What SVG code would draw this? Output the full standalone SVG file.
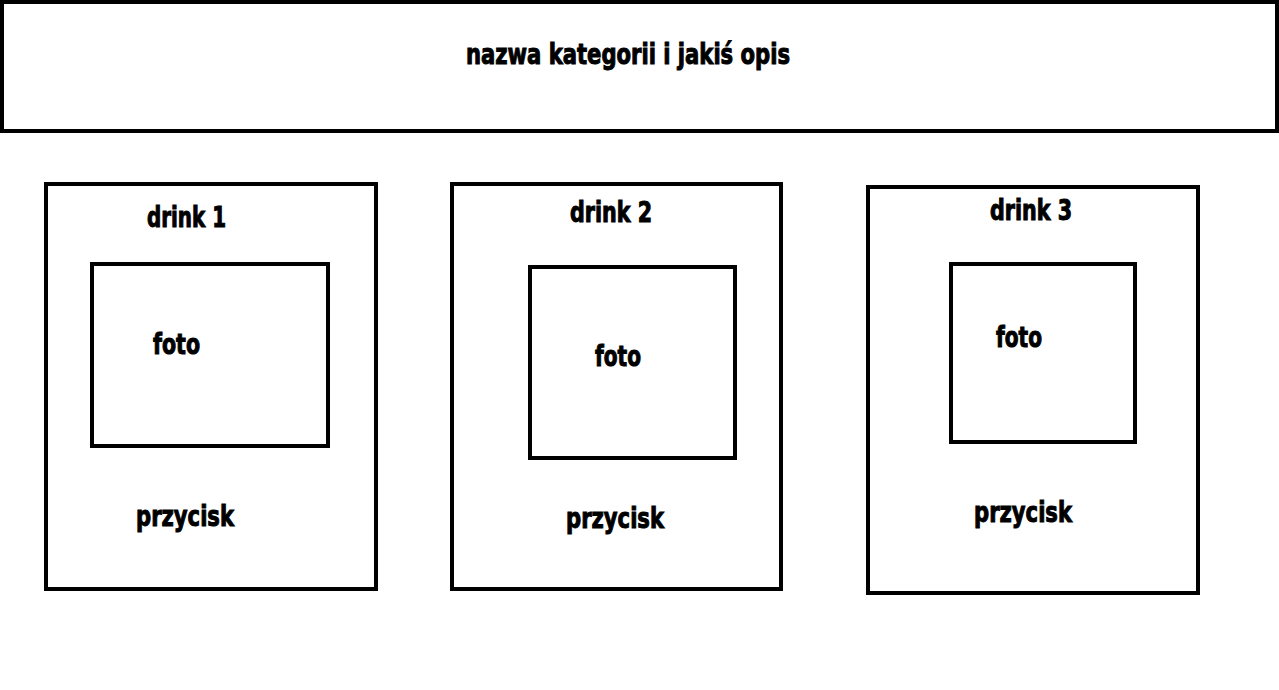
<svg xmlns="http://www.w3.org/2000/svg" width="1279" height="690" viewBox="0 0 1279 690">
<style>
.box{fill:none;stroke:#000;stroke-width:4}
.t{font-family:"DejaVu Sans","Liberation Sans",sans-serif;font-weight:bold;font-stretch:condensed;font-size:29px;fill:#000;stroke:#000;stroke-width:1}
</style>
<rect width="1279" height="690" fill="#fff"/>
<g id="header">
<rect class="box" x="2" y="2" width="1275" height="129"/>
<text class="t" x="466" y="64" textLength="324" lengthAdjust="spacingAndGlyphs">nazwa kategorii i jakiś opis</text>
</g>
<g id="card1">
<rect class="box" x="46" y="184" width="330" height="405"/>
<text class="t" x="147" y="227" textLength="79" lengthAdjust="spacingAndGlyphs">drink 1</text>
<rect class="box" x="92" y="264" width="236" height="182"/>
<text class="t" x="153" y="354" textLength="47" lengthAdjust="spacingAndGlyphs">foto</text>
<text class="t" x="136" y="526" textLength="98" lengthAdjust="spacingAndGlyphs">przycisk</text>
</g>
<g id="card2">
<rect class="box" x="452" y="184" width="329" height="405"/>
<text class="t" x="570" y="222" textLength="82" lengthAdjust="spacingAndGlyphs">drink 2</text>
<rect class="box" x="530" y="267" width="205" height="191"/>
<text class="t" x="595" y="366" textLength="46" lengthAdjust="spacingAndGlyphs">foto</text>
<text class="t" x="566" y="528" textLength="98" lengthAdjust="spacingAndGlyphs">przycisk</text>
</g>
<g id="card3">
<rect class="box" x="868" y="187" width="330" height="406"/>
<text class="t" x="990" y="220" textLength="82" lengthAdjust="spacingAndGlyphs">drink 3</text>
<rect class="box" x="951" y="264" width="184" height="178"/>
<text class="t" x="996" y="347" textLength="46" lengthAdjust="spacingAndGlyphs">foto</text>
<text class="t" x="974" y="522" textLength="98" lengthAdjust="spacingAndGlyphs">przycisk</text>
</g>
<g id="connectors"></g>
</svg>
